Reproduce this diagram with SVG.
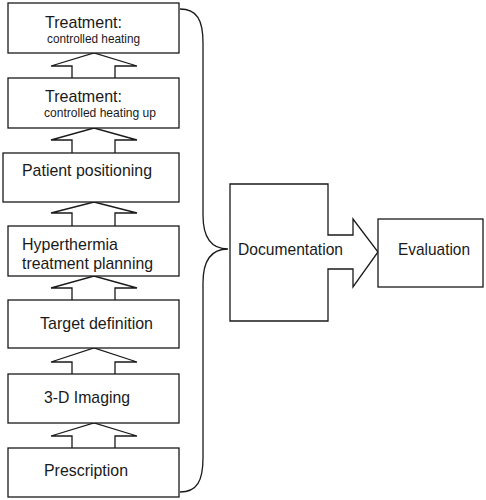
<svg xmlns="http://www.w3.org/2000/svg" width="486" height="500" viewBox="0 0 486 500">
<style>
.s{fill:#fff;stroke:#1a1a1a;stroke-width:1.3}
.c{fill:none;stroke:#1a1a1a;stroke-width:1.3}
text{font-family:"Liberation Sans",Arial,sans-serif;font-size:17px;fill:#1a1a1a}
.sm{font-size:13px}
</style>
<rect width="486" height="500" fill="#fff"/>
<g id="connectors">
<path class="s" d="M72,78 L72,66 L51,66 L94,53 L137,66 L115,66 L115,78"/>
<path class="s" d="M72,153 L72,140 L51,140 L94,128 L137,140 L115,140 L115,153"/>
<path class="s" d="M72,226 L72,213 L51,213 L94,202 L137,213 L115,213 L115,226"/>
<path class="s" d="M72,300 L72,288 L51,288 L94,276 L137,288 L115,288 L115,300"/>
<path class="s" d="M72,374 L72,362 L51,362 L94,348 L137,362 L115,362 L115,374"/>
<path class="s" d="M72,448 L72,436 L51,436 L94,423 L137,436 L115,436 L115,448"/>
<path class="c" d="M180,9 C197,9 203,20 203,43 L203,215 C203,238 212,249 228,249 C212,249 203,260 203,283 L203,458 C203,481 197,492 180,492"/>
</g>
<g id="n1"><rect class="s" x="8" y="3" width="171" height="50"/><text x="45" y="28" textLength="77" lengthAdjust="spacingAndGlyphs">Treatment:</text><text class="sm" x="47" y="43" textLength="93" lengthAdjust="spacingAndGlyphs">controlled heating</text></g>
<g id="n2"><rect class="s" x="8" y="78" width="171" height="50"/><text x="45" y="102" textLength="77" lengthAdjust="spacingAndGlyphs">Treatment:</text><text class="sm" x="44" y="117" textLength="112" lengthAdjust="spacingAndGlyphs">controlled heating up</text></g>
<g id="n3"><rect class="s" x="3" y="153" width="176" height="49"/><text x="22" y="176" textLength="130" lengthAdjust="spacingAndGlyphs">Patient positioning</text></g>
<g id="n4"><rect class="s" x="8" y="226" width="171" height="50"/><text x="22" y="250" textLength="96" lengthAdjust="spacingAndGlyphs">Hyperthermia</text><text x="22" y="269" textLength="131" lengthAdjust="spacingAndGlyphs">treatment planning</text></g>
<g id="n5"><rect class="s" x="8" y="300" width="171" height="48"/><text x="40" y="329" textLength="113" lengthAdjust="spacingAndGlyphs">Target definition</text></g>
<g id="n6"><rect class="s" x="8" y="374" width="171" height="49"/><text x="44" y="403" textLength="86" lengthAdjust="spacingAndGlyphs">3-D Imaging</text></g>
<g id="n7"><rect class="s" x="8" y="448" width="171" height="49"/><text x="44" y="476" textLength="84" lengthAdjust="spacingAndGlyphs">Prescription</text></g>
<g id="documentation"><path class="s" d="M230,184 L328,184 L328,235 L353,235 L353,219 L378,252 L353,287 L353,269 L328,269 L328,321 L230,321 Z"/><text x="238" y="255" textLength="105" lengthAdjust="spacingAndGlyphs">Documentation</text></g>
<g id="evaluation"><rect class="s" x="378" y="219" width="105" height="68"/><text x="398" y="255" textLength="72" lengthAdjust="spacingAndGlyphs">Evaluation</text></g>
</svg>
